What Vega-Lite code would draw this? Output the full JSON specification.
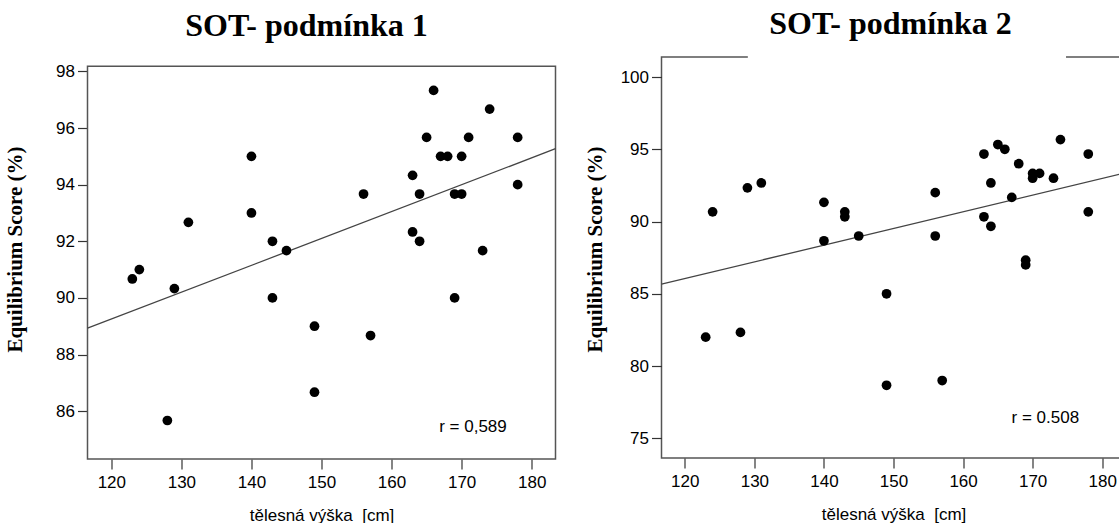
{
  "$schema": "https://vega.github.io/schema/vega-lite/v6.json",
  "background": "white",
  "padding": {"left": 4.5, "top": 7, "right": 0, "bottom": 0},
  "spacing": 24,
  "config": {
    "view": {"stroke": "#555555", "strokeWidth": 1.5},
    "axis": {"grid": false, "domain": false, "tickColor": "#333333", "tickSize": 10, "tickWidth": 1.2, "labelFont": "Liberation Sans", "labelFontSize": 17, "labelColor": "#000000", "titleColor": "#000000"}
  },
  "datasets": {
    "p1": [
      {"height": 123, "score": 90.67}, {"height": 124, "score": 91.0}, {"height": 128, "score": 85.67},
      {"height": 129, "score": 90.33}, {"height": 131, "score": 92.67}, {"height": 140, "score": 95.0},
      {"height": 140, "score": 93.0}, {"height": 143, "score": 92.0}, {"height": 143, "score": 90.0},
      {"height": 145, "score": 91.67}, {"height": 149, "score": 89.0}, {"height": 149, "score": 86.67},
      {"height": 156, "score": 93.67}, {"height": 157, "score": 88.67}, {"height": 163, "score": 94.33},
      {"height": 163, "score": 92.33}, {"height": 164, "score": 93.67}, {"height": 164, "score": 92.0},
      {"height": 165, "score": 95.67}, {"height": 166, "score": 97.33}, {"height": 167, "score": 95.0},
      {"height": 168, "score": 95.0}, {"height": 169, "score": 93.67}, {"height": 169, "score": 90.0},
      {"height": 170, "score": 95.0}, {"height": 170, "score": 93.67}, {"height": 171, "score": 95.67},
      {"height": 173, "score": 91.67}, {"height": 174, "score": 96.67}, {"height": 178, "score": 95.67},
      {"height": 178, "score": 94.0}
    ],
    "p2": [
      {"height": 123, "score": 82.0}, {"height": 124, "score": 90.67}, {"height": 128, "score": 82.33},
      {"height": 129, "score": 92.33}, {"height": 131, "score": 92.67}, {"height": 140, "score": 91.33},
      {"height": 140, "score": 88.67}, {"height": 143, "score": 90.67}, {"height": 143, "score": 90.33},
      {"height": 145, "score": 89.0}, {"height": 149, "score": 85.0}, {"height": 149, "score": 78.67},
      {"height": 156, "score": 92.0}, {"height": 156, "score": 89.0}, {"height": 157, "score": 79.0},
      {"height": 163, "score": 94.67}, {"height": 163, "score": 90.33}, {"height": 164, "score": 92.67},
      {"height": 164, "score": 89.67}, {"height": 165, "score": 95.33}, {"height": 166, "score": 95.0},
      {"height": 167, "score": 91.67}, {"height": 168, "score": 94.0}, {"height": 169, "score": 87.33},
      {"height": 169, "score": 87.0}, {"height": 170, "score": 93.33}, {"height": 170, "score": 93.0},
      {"height": 171, "score": 93.33}, {"height": 173, "score": 93.0}, {"height": 174, "score": 95.67},
      {"height": 178, "score": 94.67}, {"height": 178, "score": 90.67}
    ],
    "fit1": [{"height": 116.6, "score": 88.93}, {"height": 183.4, "score": 95.27}],
    "fit2": [{"height": 116.65, "score": 85.67}, {"height": 183.35, "score": 93.37}],
    "ann1": [{"height": 166.8, "score": 85.43, "label": "r = 0,589"}],
    "ann2": [{"height": 166.97, "score": 76.39, "label": "r = 0.508"}],
    "one": [{"n": 1}]
  },
  "hconcat": [
    {
      "width": 468,
      "height": 402,
      "view": {"stroke": null},
      "title": {"text": "SOT- podmínka 1", "font": "Liberation Serif", "fontSize": 32, "fontWeight": "bold", "color": "#000000", "offset": 14, "dx": -15},
      "layer": [
        {
          "data": {"name": "one"},
          "mark": {"type": "rect", "filled": false, "stroke": "#555555", "strokeWidth": 1.5},
          "encoding": {
            "x": {"datum": 116.6, "type": "quantitative", "scale": {"domain": [116.6, 183.4], "nice": false, "zero": false},
                  "axis": {"title": "tělesná výška\u00a0 [cm]", "values": [120, 130, 140, 150, 160, 170, 180], "titleFont": "Liberation Sans", "titleFontSize": 17, "titleFontWeight": "normal", "titlePadding": 17, "labelPadding": 5}},
            "x2": {"datum": 183.4},
            "y": {"datum": 84.31, "type": "quantitative", "scale": {"domain": [84.31, 98.51], "nice": false, "zero": false},
                  "axis": {"title": "Equilibrium Score (%)", "values": [86, 88, 90, 92, 94, 96, 98], "titleFont": "Liberation Serif", "titleFontSize": 21, "titleFontWeight": "bold", "titlePadding": 30, "labelPadding": 3, "titleY": 192}},
            "y2": {"datum": 98.18}
          }
        },
        {
          "data": {"name": "fit1"},
          "mark": {"type": "line", "color": "#444444", "strokeWidth": 1.3},
          "encoding": {
            "x": {"field": "height", "type": "quantitative"},
            "y": {"field": "score", "type": "quantitative"}
          }
        },
        {
          "data": {"name": "p1"},
          "mark": {"type": "circle", "size": 95, "color": "#000000", "opacity": 1},
          "encoding": {
            "x": {"field": "height", "type": "quantitative"},
            "y": {"field": "score", "type": "quantitative"}
          }
        },
        {
          "data": {"name": "ann1"},
          "mark": {"type": "text", "align": "left", "baseline": "middle", "font": "Liberation Sans", "fontSize": 17, "color": "#000000"},
          "encoding": {
            "x": {"field": "height", "type": "quantitative"},
            "y": {"field": "score", "type": "quantitative"},
            "text": {"field": "label"}
          }
        }
      ]
    },
    {
      "width": 464,
      "height": 401,
      "title": {"text": "SOT- podmínka 2", "font": "Liberation Serif", "fontSize": 32, "fontWeight": "bold", "color": "#000000", "offset": 14, "dx": -3},
      "layer": [
        {
          "data": {"name": "fit2"},
          "mark": {"type": "line", "color": "#444444", "strokeWidth": 1.3},
          "encoding": {
            "x": {"field": "height", "type": "quantitative", "scale": {"domain": [116.65, 183.35], "nice": false, "zero": false},
                  "axis": {"title": "tělesná výška\u00a0 [cm]", "values": [120, 130, 140, 150, 160, 170, 180], "titleFont": "Liberation Sans", "titleFontSize": 17, "titleFontWeight": "normal", "titlePadding": 17, "labelPadding": 5}},
            "y": {"field": "score", "type": "quantitative", "scale": {"domain": [73.64, 101.385], "nice": false, "zero": false},
                  "axis": {"title": "Equilibrium Score (%)", "values": [75, 80, 85, 90, 95, 100], "titleFont": "Liberation Serif", "titleFontSize": 21, "titleFontWeight": "bold", "titlePadding": 15, "labelPadding": 3, "titleY": 192}}
          }
        },
        {
          "data": {"name": "one"},
          "mark": {"type": "rule", "color": "#ffffff", "strokeWidth": 4},
          "encoding": {
            "x": {"datum": 129.06, "type": "quantitative"},
            "x2": {"datum": 174.8},
            "y": {"datum": 101.385, "type": "quantitative"}
          }
        },
        {
          "data": {"name": "p2"},
          "mark": {"type": "circle", "size": 95, "color": "#000000", "opacity": 1},
          "encoding": {
            "x": {"field": "height", "type": "quantitative"},
            "y": {"field": "score", "type": "quantitative"}
          }
        },
        {
          "data": {"name": "ann2"},
          "mark": {"type": "text", "align": "left", "baseline": "middle", "font": "Liberation Sans", "fontSize": 17, "color": "#000000"},
          "encoding": {
            "x": {"field": "height", "type": "quantitative"},
            "y": {"field": "score", "type": "quantitative"},
            "text": {"field": "label"}
          }
        }
      ]
    }
  ]
}
